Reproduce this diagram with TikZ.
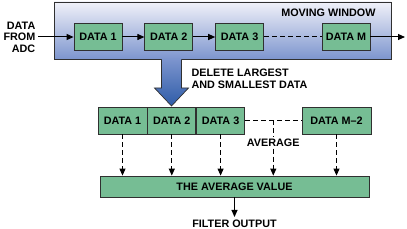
\documentclass[tikz,border=0pt]{standalone}
\usepackage{fontspec}
\setmainfont{Liberation Sans}
\usepackage{tikz}
\usetikzlibrary{positioning,arrows.meta,calc}
\definecolor{boxgreen}{HTML}{76BD94}
\definecolor{wintop}{HTML}{F0F1F9}
\definecolor{winbot}{HTML}{7D95CE}
\definecolor{arrbot}{HTML}{2E5CA8}
\definecolor{edgegray}{HTML}{303030}

\begin{document}
\begin{tikzpicture}[
  x=1pt, y=-1pt,
  font=\fontsize{10.8}{11.5}\selectfont\bfseries,
  node distance=0pt and 22pt,
  >={Triangle[length=7pt,width=6pt]},
  dbox/.style={
    rectangle, draw=edgegray, line width=0.8pt, fill=boxgreen,
    minimum width=48pt, minimum height=27pt, inner sep=2pt
  },
  link/.style={->, line width=1pt},
  dlink/.style={->, line width=1pt, dash pattern=on 5pt off 3pt},
  dline/.style={line width=1pt, dash pattern=on 5pt off 3pt}
]
\useasboundingbox (0,0) rectangle (407,229);

\shade[top color=wintop, bottom color=winbot, draw=edgegray, line width=0.8pt]
  (54,2) rectangle (391,59);
\node[anchor=east] (wtitle) at (379,13) {MOVING WINDOW};

\node[dbox] (d1) at (98,37) {DATA 1};
\node[dbox, right=of d1] (d2) {DATA 2};
\node[dbox, right=of d2] (d3) {DATA 3};
\node[dbox] (dM) at (346,37) {DATA M};

\node[align=right, anchor=east, inner sep=2.5pt] (adc) at (38,37) {DATA\\FROM\\ADC};
\coordinate (wout) at (405,37);

\draw[link] (adc.east) -- (d1.west);
\draw[link] (d1) -- (d2);
\draw[link] (d2) -- (d3);
\draw[dline] (d3) -- (dM);
\draw[link] (dM) -- (wout);

\shade[top color=winbot, bottom color=arrbot]
  (161.5,58.6) -- (181.5,58.6) -- (181.5,88) -- (188.5,88) -- (171.5,106)
  -- (154.5,88) -- (161.5,88) -- cycle;
\draw[edgegray, line width=0.7pt]
  (161.5,59.4) -- (161.5,88) -- (154.5,88) -- (171.5,106) -- (188.5,88)
  -- (181.5,88) -- (181.5,59.4);
\node[align=left, anchor=west] (del) at (188,79) {DELETE LARGEST\\AND SMALLEST DATA};

\node[dbox, minimum width=49pt] (b1) at (122.5,120.5) {DATA 1};
\node[dbox, right=0pt of b1] (b2) {DATA 2};
\node[dbox, right=0pt of b2] (b3) {DATA 3};
\node[dbox, minimum width=69pt] (bM) at (336.5,120.5) {DATA M--2};

\node[dbox, minimum width=269pt, minimum height=21pt] (avg) at (234.5,186.5) {THE AVERAGE VALUE};

\draw[dline] (b3) -- (bM);
\coordinate (mid) at ($(b3.east)!0.5!(bM.west)$);
\node[fill=white, inner sep=1.5pt] (avl) at (mid |- 0,143) {AVERAGE};

\draw[dlink] (b1) -- (b1 |- avg.north);
\draw[dlink] (b2) -- (b2 |- avg.north);
\draw[dlink] (b3) -- (b3 |- avg.north);
\draw[dlink] (bM) -- (bM |- avg.north);
\draw[dline] (mid) -- (avl.north);
\draw[dlink] (avl.south) -- (avl |- avg.north);

\node[inner sep=3pt] (out) at (234.5,224) {FILTER OUTPUT};
\draw[link] (avg) -- (out);

\end{tikzpicture}
\end{document}
